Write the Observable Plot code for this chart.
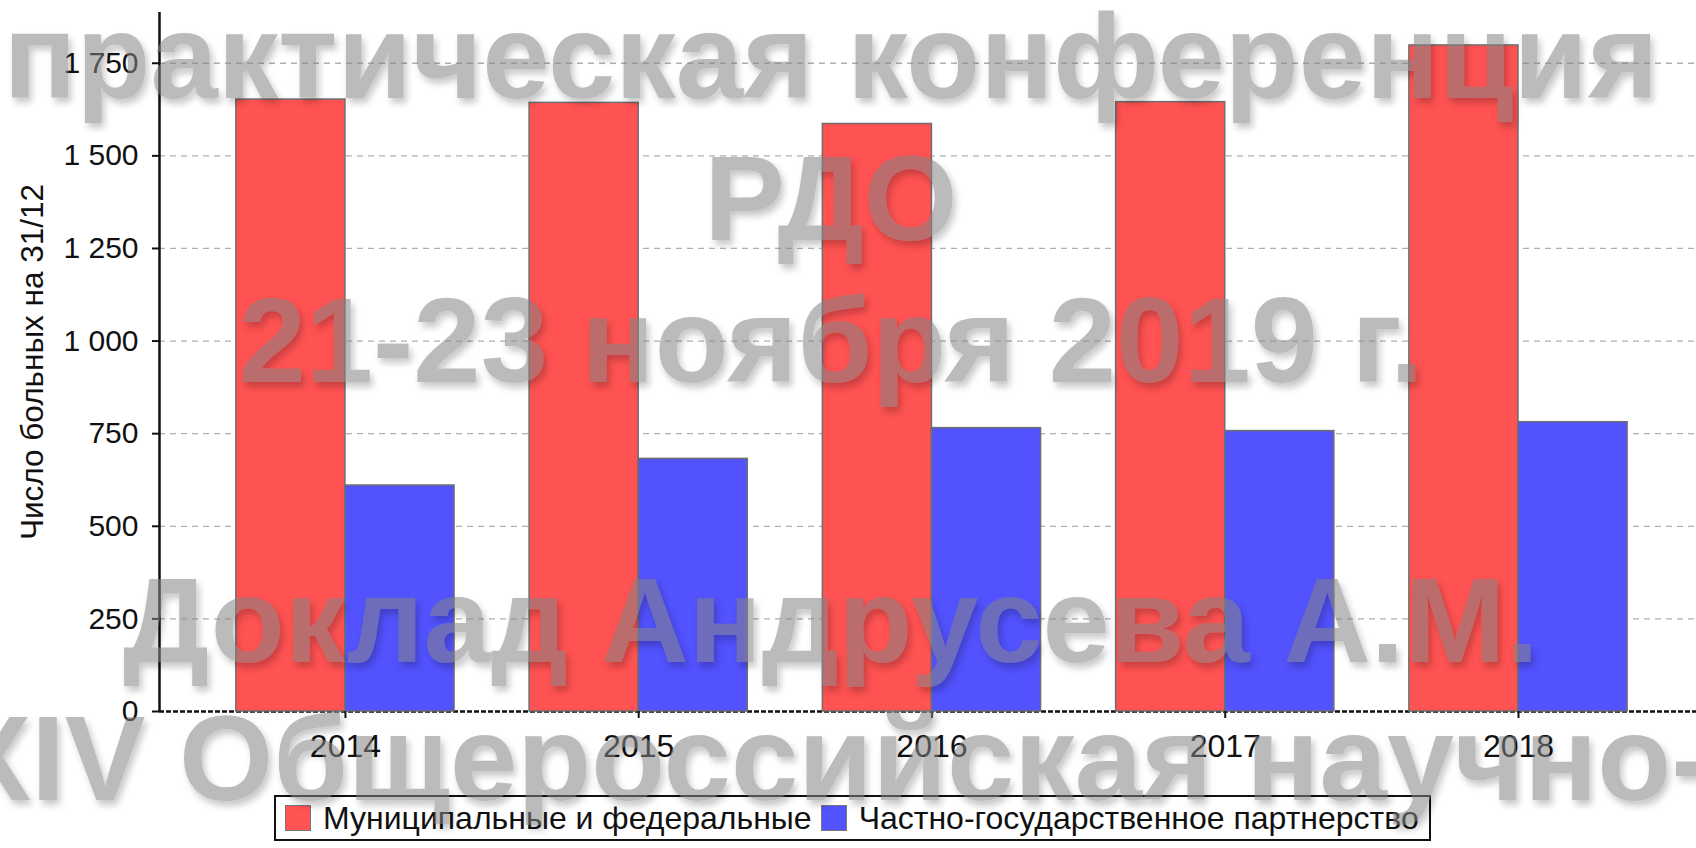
<!DOCTYPE html>
<html>
<head>
<meta charset="utf-8">
<script src="https://cdn.jsdelivr.net/npm/d3@7"></script>
<script src="https://cdn.jsdelivr.net/npm/@observablehq/plot@0.6"></script>
<style>
  html, body { margin: 0; padding: 0; background: #fff; }
  #wrap { position: relative; width: 1696px; height: 848px; overflow: hidden; font-family: "Liberation Sans", Arial, sans-serif; }
  #legend { position: absolute; left: 274px; top: 795px; width: 1153px; height: 42px; border: 2px solid #111; display: flex; align-items: center; font-size: 32px; color: #111; box-sizing: content-box; }
  #legend .sw { width: 26px; height: 26px; border: 1px solid #777; box-sizing: border-box; margin-left: 9px; margin-right: 12px; }
  #legend .it { display: flex; align-items: center; white-space: nowrap; }
  #wm { position: absolute; left: 0; top: 0; pointer-events: none; }
</style>
</head>
<body>
<div id="wrap"></div>
<script>
// ---- data ----
const years = [2014, 2015, 2016, 2017, 2018];
const seriesNames = ["Муниципальные и федеральные", "Частно-государственное партнерство"];
const municipal = [1652, 1643, 1586, 1645, 1798];
const ppp = [610, 682, 765, 757, 781];
const seriesColors = ["#ff5252", "#5252ff"];
const yTicks = [0, 250, 500, 750, 1000, 1250, 1500, 1750];
const yLabel = "Число больных на 31/12";
const watermark = ["практическая конференция", "РДО", "21-23 ноября 2019 г.", "", "Доклад Андрусева А.М.", "XIV Общероссийская научно-"];

const xDomain = [2013.366, 2018.607];
const half = 0.372;
const rows = [];
years.forEach((yr, i) => {
  rows.push({year: yr, series: seriesNames[0], value: municipal[i], x1: yr - half, x2: yr});
  rows.push({year: yr, series: seriesNames[1], value: ppp[i], x1: yr, x2: yr + half});
});

const font = "'Liberation Sans', Arial, sans-serif";
const chart = Plot.plot({
  width: 1696,
  height: 790,
  marginLeft: 159,
  marginRight: 0,
  marginTop: 12,
  marginBottom: 79,
  style: {fontFamily: font, fontSize: "30px", color: "#111", background: "transparent"},
  x: {type: "linear", domain: xDomain},
  y: {domain: [0, 1887]},
  color: {domain: seriesNames, range: seriesColors},
  marks: [
    Plot.ruleY(yTicks.filter(d => d > 0), {stroke: "#b0b0b0", strokeWidth: 1.3, strokeDasharray: "6,5"}),
    Plot.ruleY([0], {stroke: "#111", strokeWidth: 2.5, strokeDasharray: "5,2"}),
    Plot.rectY(rows, {x1: "x1", x2: "x2", y1: 0, y2: "value", fill: "series", stroke: "#6e6e6e", strokeWidth: 1.5}),
    Plot.ruleX([xDomain[0]], {stroke: "#111", strokeWidth: 2.5}),
    Plot.axisY({ticks: yTicks, tickSize: 7, tickPadding: 14, strokeWidth: 2,
      tickFormat: d => d3.format(",")(d).replace(/,/g, " "), label: null, fontSize: 30}),
    Plot.axisX({ticks: years, tickSize: 7, tickPadding: 16, strokeWidth: 2, tickFormat: d => String(d), label: null, fontSize: 32}),
    Plot.text([yLabel], {frameAnchor: "left", textAnchor: "middle", lineAnchor: "middle", rotate: -90, dx: -127, fontSize: 31.5, fill: "#111"})
  ]
});
const wrap = document.getElementById("wrap");
wrap.appendChild(chart);

// legend below the chart
const legend = document.createElement("div");
legend.id = "legend";
seriesNames.forEach((name, i) => {
  const it = document.createElement("div");
  it.className = "it";
  const sw = document.createElement("div");
  sw.className = "sw";
  sw.style.background = seriesColors[i];
  const tx = document.createElement("span");
  tx.textContent = name;
  it.appendChild(sw); it.appendChild(tx);
  legend.appendChild(it);
});
wrap.appendChild(legend);

// watermark overlay
const ns = "http://www.w3.org/2000/svg";
const wm = document.createElementNS(ns, "svg");
wm.setAttribute("id", "wm");
wm.setAttribute("width", 1696);
wm.setAttribute("height", 848);
wm.innerHTML = `<defs><filter id="sh" x="-10%" y="-30%" width="120%" height="160%">
  <feDropShadow dx="3" dy="5" stdDeviation="3.5" flood-color="#000" flood-opacity="0.4"/></filter></defs>`;
const g = document.createElementNS(ns, "g");
g.setAttribute("opacity", "0.55");
g.setAttribute("filter", "url(#sh)");
const baselines = [98, 240, 382, 524, 662, 800];
watermark.forEach((line, i) => {
  if (!line) return;
  const t = document.createElementNS(ns, "text");
  t.setAttribute("x", 831);
  t.setAttribute("y", baselines[i]);
  t.setAttribute("text-anchor", "middle");
  t.setAttribute("font-family", "Liberation Sans, Arial, sans-serif");
  t.setAttribute("font-weight", "bold");
  t.setAttribute("font-size", 121);
  t.setAttribute("fill", "rgb(132,132,132)");
  t.textContent = line;
  g.appendChild(t);
});
wm.appendChild(g);
wrap.appendChild(wm);
</script>
</body>
</html>
